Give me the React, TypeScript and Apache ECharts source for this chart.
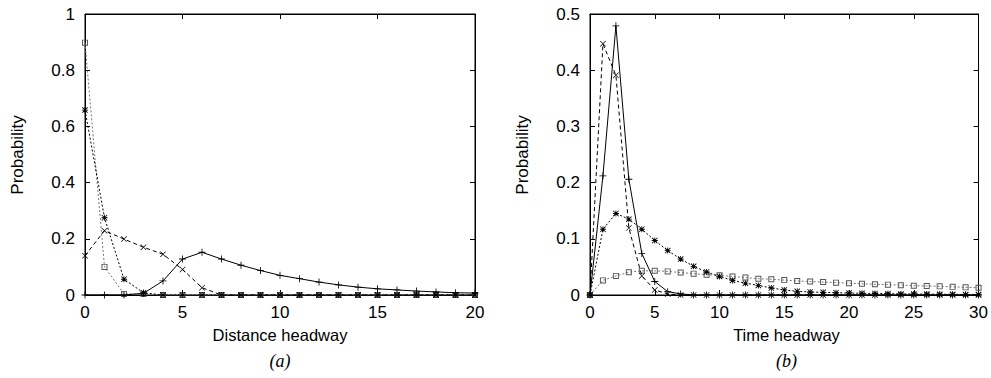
import React, { useEffect, useRef } from "react";
import * as echarts from "echarts";

// ---- data ----
const distX = [0, 1, 2, 3, 4, 5, 6, 7, 8, 9, 10, 11, 12, 13, 14, 15, 16, 17, 18, 19, 20];
const distPlus = [0, 0, 0, 0.006, 0.05, 0.128, 0.152, 0.128, 0.106, 0.087, 0.07, 0.058, 0.046, 0.036, 0.028, 0.022, 0.018, 0.014, 0.011, 0.008, 0.007];
const distCross = [0.14, 0.229, 0.199, 0.17, 0.145, 0.091, 0.026, 0, 0, 0, 0, 0, 0, 0, 0, 0, 0, 0, 0, 0, 0];
const distStar = [0.658, 0.275, 0.056, 0.008, 0, 0, 0, 0, 0, 0, 0, 0, 0, 0, 0, 0, 0, 0, 0, 0, 0];
const distSquare = [0.898, 0.1, 0.004, 0.004, 0, 0, 0, 0, 0, 0, 0, 0, 0, 0, 0, 0, 0, 0, 0, 0, 0];

const timeX = [0, 1, 2, 3, 4, 5, 6, 7, 8, 9, 10, 11, 12, 13, 14, 15, 16, 17, 18, 19, 20, 21, 22, 23, 24, 25, 26, 27, 28, 29, 30];
const timePlus = [0, 0.212, 0.479, 0.206, 0.074, 0.024, 0.006, 0.002, 0, 0, 0, 0, 0, 0, 0, 0, 0, 0, 0, 0, 0, 0, 0, 0, 0, 0, 0, 0, 0, 0, 0];
const timeCross = [0, 0.447, 0.391, 0.119, 0.034, 0.009, 0.002, 0, 0, 0, 0, 0, 0, 0, 0, 0, 0, 0, 0, 0, 0, 0, 0, 0, 0, 0, 0, 0, 0, 0, 0];
const timeStar = [0, 0.117, 0.145, 0.135, 0.117, 0.097, 0.079, 0.064, 0.051, 0.041, 0.033, 0.026, 0.021, 0.017, 0.0125, 0.009, 0.0065, 0.0054, 0.0047, 0.004, 0.0035, 0.003, 0.0027, 0.0024, 0.002, 0.0018, 0.0016, 0.0014, 0.0012, 0.001, 0.001];
const timeSquare = [0, 0.026, 0.034, 0.0405, 0.043, 0.043, 0.042, 0.04, 0.038, 0.036, 0.035, 0.033, 0.031, 0.029, 0.028, 0.0265, 0.025, 0.024, 0.023, 0.022, 0.021, 0.02, 0.019, 0.0184, 0.0175, 0.0166, 0.016, 0.0154, 0.0145, 0.0136, 0.013];

const distTitle = "Distance headway";
const timeTitle = "Time headway";
const yTitle = "Probability";

// ---- symbols ----
const PLUS = "path://M0,4.4H10V5.6H0Z M4.4,0H5.6V10H4.4Z";
const CROSS = "path://M0,0.8L0.8,0L10,9.2L9.2,10Z M9.2,0L10,0.8L0.8,10L0,9.2Z";
const STAR = "path://M0,4.3H10V5.7H0Z M4.3,0H5.7V10H4.3Z M0,1L1,0L10,9L9,10Z M9,0L10,1L1,10L0,9Z";
const SQUARE = "path://M0,0H10V10H0Z M1.6,1.6V8.4H8.4V1.6Z";

const FONT = "'Liberation Sans', Arial, Helvetica, sans-serif";

function pairs(xs: number[], ys: number[]) {
  return xs.map((x, i) => [x, ys[i]]);
}

function axisPair(gridIndex: number, max: number, interval: number, isX: boolean, labelGap: number) {
  const base = {
    type: "value",
    gridIndex,
    min: 0,
    max,
    interval,
    splitLine: { show: false },
    axisLine: { show: true, onZero: false, lineStyle: { color: "#000", width: 1 } },
    axisTick: { show: true, inside: true, length: 5, lineStyle: { color: "#000", width: 1 } },
  };
  return [
    {
      ...base,
      position: isX ? "bottom" : "left",
      axisLabel: { show: true, color: "#000", fontSize: 17, fontFamily: FONT, margin: labelGap },
    },
    {
      ...base,
      position: isX ? "top" : "right",
      axisLabel: { show: false },
    },
  ];
}

function makeSeries(xs: number[], ys: number[], axisIdx: number, kind: string) {
  const common: any = {
    type: "line",
    xAxisIndex: axisIdx,
    yAxisIndex: axisIdx,
    data: pairs(xs, ys),
    showAllSymbol: true,
    clip: false,
  };
  if (kind === "plus") {
    return {
      ...common,
      z: 5,
      symbol: PLUS,
      symbolSize: 7,
      itemStyle: { color: "#000" },
      lineStyle: { color: "#000", width: 1, type: "solid" },
    };
  }
  if (kind === "cross") {
    return {
      ...common,
      z: 4,
      symbol: CROSS,
      symbolSize: 6,
      itemStyle: { color: "#000" },
      lineStyle: { color: "#000", width: 1, type: [4, 3] },
    };
  }
  if (kind === "star") {
    return {
      ...common,
      z: 3,
      symbol: STAR,
      symbolSize: 6,
      itemStyle: { color: "#000" },
      lineStyle: { color: "#000", width: 1, type: [2, 2] },
    };
  }
  return {
    ...common,
    z: 3,
    symbol: SQUARE,
    symbolSize: 6,
    itemStyle: { color: "#555" },
    lineStyle: { color: "#777", width: 1, type: [2, 2] },
  };
}

export default function App() {
  const ref = useRef<HTMLDivElement>(null);

  useEffect(() => {
    if (!ref.current) return;
    const chart = echarts.init(ref.current, null, { renderer: "svg" });
    const [lxB, lxT] = axisPair(0, 20, 5, true, 9);
    const [rxB, rxT] = axisPair(1, 30, 5, true, 9);
    const [lyL, lyR] = axisPair(0, 1, 0.2, false, 10);
    const [ryL, ryR] = axisPair(1, 0.5, 0.1, false, 10);

    const option: any = {
      animation: false,
      backgroundColor: "#fff",
      grid: [
        { left: 85, top: 14, width: 390, height: 281, show: true, borderColor: "#000", borderWidth: 1, backgroundColor: "transparent" },
        { left: 590, top: 14, width: 393, height: 281, show: true, borderColor: "#000", borderWidth: 1, backgroundColor: "transparent" },
      ],
      // indices: 0 left-bottom, 1 right-bottom, 2 left-top, 3 right-top
      xAxis: [lxB, rxB, lxT, rxT],
      yAxis: [lyL, ryL, lyR, ryR],
      series: [
        makeSeries(distX, distSquare, 0, "square"),
        makeSeries(distX, distStar, 0, "star"),
        makeSeries(distX, distCross, 0, "cross"),
        makeSeries(distX, distPlus, 0, "plus"),
        makeSeries(timeX, timeSquare, 1, "square"),
        makeSeries(timeX, timeStar, 1, "star"),
        makeSeries(timeX, timeCross, 1, "cross"),
        makeSeries(timeX, timePlus, 1, "plus"),
      ],
      graphic: [
        {
          type: "text",
          x: 280,
          y: 335,
          style: { text: distTitle, fontSize: 16.5, fontFamily: FONT, fill: "#000", textAlign: "center", textVerticalAlign: "middle" },
        },
        {
          type: "text",
          x: 786.5,
          y: 335,
          style: { text: timeTitle, fontSize: 16.5, fontFamily: FONT, fill: "#000", textAlign: "center", textVerticalAlign: "middle" },
        },
        {
          type: "text",
          x: 17,
          y: 155,
          rotation: Math.PI / 2,
          style: { text: yTitle, fontSize: 17, fontFamily: FONT, fill: "#000", textAlign: "center", textVerticalAlign: "middle" },
        },
        {
          type: "text",
          x: 522,
          y: 155,
          rotation: Math.PI / 2,
          style: { text: yTitle, fontSize: 17, fontFamily: FONT, fill: "#000", textAlign: "center", textVerticalAlign: "middle" },
        },
        {
          type: "text",
          x: 280,
          y: 361,
          style: { text: "(a)", fontSize: 18, fontStyle: "italic", fontFamily: "'Liberation Serif', 'DejaVu Serif', serif", fill: "#000", textAlign: "center", textVerticalAlign: "middle" },
        },
        {
          type: "text",
          x: 786.5,
          y: 361,
          style: { text: "(b)", fontSize: 18, fontStyle: "italic", fontFamily: "'Liberation Serif', 'DejaVu Serif', serif", fill: "#000", textAlign: "center", textVerticalAlign: "middle" },
        },
      ],
    };
    chart.setOption(option);
    return () => chart.dispose();
  }, []);

  return (
    <div
      ref={ref}
      style={{ position: "fixed", left: 0, top: 0, width: 991, height: 378, background: "#fff" }}
    />
  );
}
